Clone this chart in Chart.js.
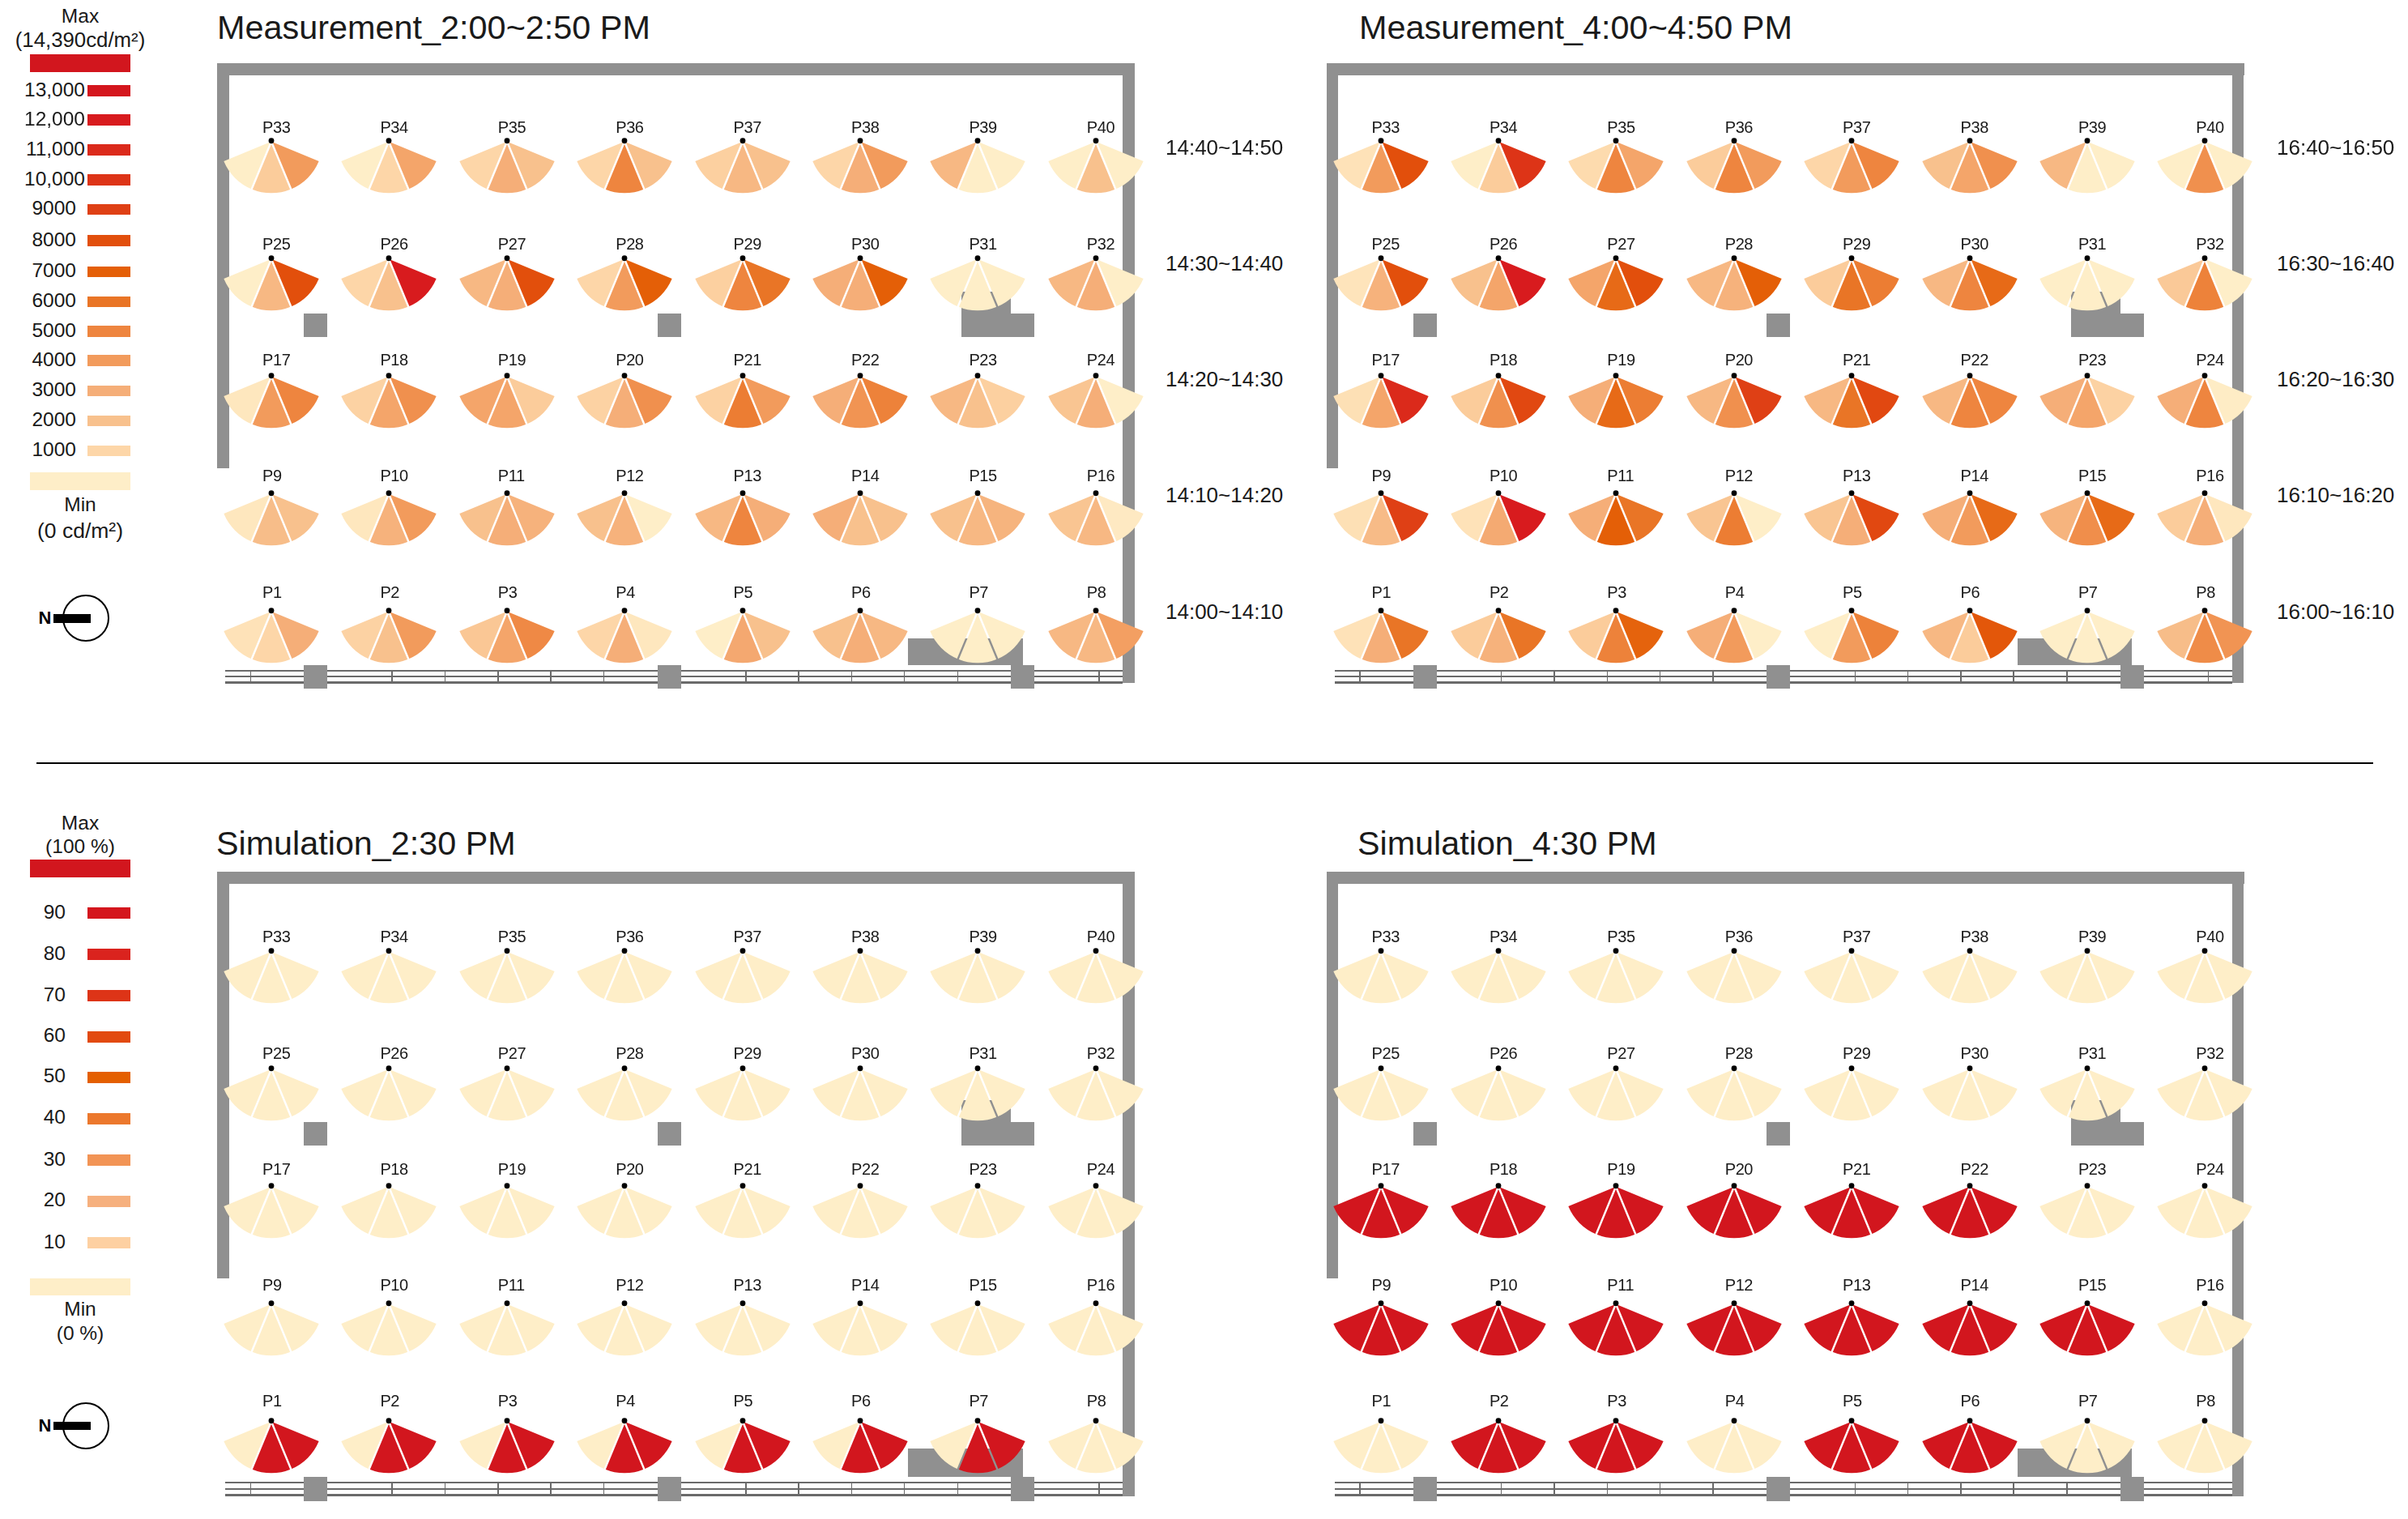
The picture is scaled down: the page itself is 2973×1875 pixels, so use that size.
<!DOCTYPE html>
<html>
<head>
<meta charset="utf-8">
<title>Measurement and simulation fans</title>
<script src="https://cdn.jsdelivr.net/npm/chart.js@4"></script>
<style>
    html, body { margin: 0; padding: 0; background: #fff; }
    #page { position: relative; width: 2973px; height: 1875px; overflow: hidden; font-family: "Liberation Sans", sans-serif; color: #1a1a1a; }
    #page div, #page canvas { position: absolute; }
    .t { white-space: nowrap; line-height: 1; transform: translateY(-50%); }
    .c { transform: translate(-50%, -50%); }
    .r { transform: translate(-100%, -50%); }
</style>
</head>
<body>
<div id="page"></div>
<script>
// values per point, P1 to P40, each one [left, middle, right] slice
const measurement2pm = [
    [500,1000,3000], [1200,2000,4000], [1700,3500,4800], [1000,3000,300], [0,3300,2000], [2000,3000,2500], [0,0,0], [2500,2500,3800],
    [300,2200,2000], [300,2800,4000], [2000,3000,2800], [2000,2800,0], [2500,5000,3000], [3000,2000,2000], [2000,2500,2700], [1800,2500,200],
    [300,4000,5000], [1200,3500,4500], [3500,3500,1500], [1200,3000,4500], [1200,5500,4000], [3000,4300,5200], [2500,2000,1300], [1800,3000,0],
    [0,2500,8000], [1000,2000,12000], [2500,3000,8000], [1000,4000,7000], [1300,5000,6000], [3000,3000,7000], [0,0,0], [2500,3000,0],
    [0,1500,4000], [0,1000,3500], [1000,3000,2000], [1000,5000,2000], [1300,2500,2000], [1000,3000,4000], [2500,0,0], [0,2000,0]
];
const measurement4pm = [
    [500,3000,6000], [1500,2800,6000], [1500,5200,6800], [3000,4000,0], [0,4000,5200], [2500,1500,7500], [0,0,0], [2200,4700,4300],
    [600,2300,9000], [500,3200,12000], [3000,7000,6000], [1800,5500,0], [1800,3000,8500], [3000,4000,6500], [2700,4600,6500], [1500,3000,300],
    [600,3500,11000], [1500,4500,8500], [3000,6500,5500], [2500,4500,9000], [2500,6000,8500], [2500,5000,5000], [3000,3500,1200], [3000,5000,100],
    [400,2800,8000], [2000,3500,12000], [3500,6500,8000], [2500,2800,7000], [1500,6000,5500], [2500,5000,6500], [0,0,0], [1600,5200,0],
    [500,4000,8000], [0,1500,10000], [800,5000,3500], [1500,5000,4000], [1000,4000,5000], [2000,3500,4500], [2500,0,0], [0,4500,0]
];
const simulation230 = [
    [0,100,100], [0,100,100], [0,100,100], [0,100,100], [0,100,100], [0,100,100], [0,100,100], [0,0,0],
    [0,0,0], [0,0,0], [0,0,0], [0,0,0], [0,0,0], [0,0,0], [0,0,0], [0,0,0],
    [0,0,0], [0,0,0], [0,0,0], [0,0,0], [0,0,0], [0,0,0], [0,0,0], [0,0,0],
    [0,0,0], [0,0,0], [0,0,0], [0,0,0], [0,0,0], [0,0,0], [0,0,0], [0,0,0],
    [0,0,0], [0,0,0], [0,0,0], [0,0,0], [0,0,0], [0,0,0], [0,0,0], [0,0,0]
];
const simulation430 = [
    [0,0,0], [100,100,100], [100,100,100], [0,0,0], [100,100,100], [100,100,100], [0,0,0], [0,0,0],
    [100,100,100], [100,100,100], [100,100,100], [100,100,100], [100,100,100], [100,100,100], [100,100,100], [0,0,0],
    [100,100,100], [100,100,100], [100,100,100], [100,100,100], [100,100,100], [100,100,100], [0,0,0], [0,0,0],
    [0,0,0], [0,0,0], [0,0,0], [0,0,0], [0,0,0], [0,0,0], [0,0,0], [0,0,0],
    [0,0,0], [0,0,0], [0,0,0], [0,0,0], [0,0,0], [0,0,0], [0,0,0], [0,0,0]
];

// colour legends
const luminanceStops = [0, 1000, 2000, 3000, 4000, 5000, 6000, 7000, 8000, 9000, 10000, 11000, 12000, 13000, 14390];
const luminanceColors = ['#feeec8', '#fdd6a8', '#f8c18d', '#f5ae78', '#f29b5c', '#ee853f', '#e97526', '#e45f07', '#e24f0c', '#df4015', '#dd3417', '#db2a1b', '#d81b1e', '#d4161d', '#d2161e'];
const luminanceLabels = ['13,000', '12,000', '11,000', '10,000', '9000', '8000', '7000', '6000', '5000', '4000', '3000', '2000', '1000'];
const percentStops = [0, 10, 20, 30, 40, 50, 60, 70, 80, 90, 100];
const percentColors = ['#feeec8', '#fdd0a2', '#f6b07e', '#f29455', '#ec782d', '#e45f00', '#e24a10', '#dd3417', '#da231e', '#d4161d', '#d2161e'];
const percentLabels = ['90', '80', '70', '60', '50', '40', '30', '20', '10'];

const timeSlots1 = ['14:40~14:50', '14:30~14:40', '14:20~14:30', '14:10~14:20', '14:00~14:10'];
const timeSlots2 = ['16:40~16:50', '16:30~16:40', '16:20~16:30', '16:10~16:20', '16:00~16:10'];

// layout, in page pixels
const WALL = '#909090';
const RAIL = '#6a6a6a';
const columnX = 335, columnStep = 145.4, rowStep = 145;
const panelShift = 1369.5;
const railTicks = [309.4, 484, 549.4, 614.8, 680.2, 745.6, 921, 986, 1051.5, 1116.7, 1182.3, 1357];
const labelYTop = [156.7, 300.7, 444, 587, 730.7];
const labelYBottom = [1156, 1299.5, 1443, 1586, 1729];
const page = document.getElementById('page');

function box(x, y, w, h, color) {
    const d = document.createElement('div');
    d.style.cssText = `left:${x}px;top:${y}px;width:${w}px;height:${h}px;background:${color}`;
    page.appendChild(d);
    return d;
}

function text(str, x, y, size, cls, extra) {
    const d = document.createElement('div');
    d.className = 't ' + (cls || '');
    d.textContent = str;
    d.style.cssText = `left:${x}px;top:${y}px;font-size:${size}px;` + (extra || '');
    page.appendChild(d);
    return d;
}

function colorFor(value, stops, colors) {
    let i = 0;
    while (i < stops.length - 2 && value > stops[i + 1]) i++;
    const f = Math.min(1, (value - stops[i]) / (stops[i + 1] - stops[i]));
    const a = parseInt(colors[i].slice(1), 16), b = parseInt(colors[i + 1].slice(1), 16);
    const mix = s => Math.round(((a >> s) & 255) * (1 - f) + ((b >> s) & 255) * f);
    return `rgb(${mix(16)},${mix(8)},${mix(0)})`;
}

// cuts the see-through gaps between slices and puts the black dot on the tip
const fanDetails = {
    id: 'fanDetails',
    afterDatasetsDraw(chart) {
        const arcs = chart.getDatasetMeta(0).data;
        const ctx = chart.ctx;
        const tip = arcs[0];
        ctx.save();
        ctx.globalCompositeOperation = 'destination-out';
        ctx.lineWidth = 2.4;
        [arcs[0].endAngle, arcs[1].endAngle].forEach(angle => {
            ctx.beginPath();
            ctx.moveTo(tip.x, tip.y);
            ctx.lineTo(tip.x + Math.cos(angle) * 70, tip.y + Math.sin(angle) * 70);
            ctx.stroke();
        });
        ctx.globalCompositeOperation = 'source-over';
        ctx.fillStyle = '#000';
        ctx.beginPath();
        ctx.arc(tip.x, tip.y - 1, 3.4, 0, Math.PI * 2);
        ctx.fill();
        ctx.restore();
    }
};

function drawFan(apexX, apexY, values, stops, colors) {
    const canvas = document.createElement('canvas');
    canvas.width = 140;
    canvas.height = 81;
    canvas.style.left = (apexX - 70) + 'px';
    canvas.style.top = (apexY - 9) + 'px';
    page.appendChild(canvas);
    // slices run clockwise from lower right, so the order is flipped
    const ordered = values.slice().reverse();
    new Chart(canvas.getContext('2d'), {
        type: 'pie',
        data: {
            labels: ['right', 'middle', 'left'],
            datasets: [{
                data: [1, 1, 1],
                backgroundColor: ordered.map(v => colorFor(v, stops, colors)),
                borderWidth: 0
            }]
        },
        options: {
            responsive: false,
            animation: false,
            events: [],
            rotation: 112.5,
            circumference: 135,
            radius: 63.5,
            plugins: { legend: { display: false }, tooltip: { enabled: false } }
        },
        plugins: [fanDetails]
    });
}

function drawRoom(dx, y) {
    // walls
    box(dx + 268, y.top, 1133, 14.7, WALL);
    box(dx + 268, y.top, 14.5, y.leftEnd - y.top, WALL);
    box(dx + 1386.3, y.top, 14.7, y.rightEnd - y.top, WALL);
    // window rail
    box(dx + 278, y.rail[0] - 1, 1108, 2, RAIL);
    box(dx + 278, y.rail[1] - 0.75, 1108, 1.5, RAIL);
    box(dx + 278, y.rail[2] - 1.25, 1108, 2.5, RAIL);
    railTicks.forEach(x => box(dx + x - 0.75, y.rail[0], 1.5, y.rail[2] - y.rail[0], RAIL));
    // columns and core
    [375, 811.6, 1248.3].forEach(x => box(dx + x, y.pillar, 29, y.pillarH, WALL));
    [375, 811.6].forEach(x => box(dx + x, y.mid, 29, 29, WALL));
    box(dx + 1187, y.mid, 90.3, 29, WALL);
    box(dx + 1187, y.mid - 27, 61, 27, WALL);
    box(dx + 1121, y.block, 141.7, y.pillar - y.block, WALL);
}

function drawPanel(dx, apexTop, labelY, values, stops, colors) {
    for (let row = 0; row < 5; row++) {
        for (let col = 0; col < 8; col++) {
            const n = (4 - row) * 8 + col;
            const x = dx + columnX + col * columnStep;
            drawFan(x, apexTop + row * rowStep, values[n], stops, colors);
            text('P' + (n + 1), x - 11, labelY[row], 20, '', 'letter-spacing:-0.4px');
        }
    }
}

function drawCompass(cy) {
    const ring = box(77.3, cy - 29, 58, 58, 'transparent');
    ring.style.boxSizing = 'border-box';
    ring.style.border = '2.6px solid #000';
    ring.style.borderRadius = '50%';
    box(66, cy - 5, 45.7, 10.4, '#000');
    text('N', 47.5, cy, 22, '', 'font-weight:bold;color:#000');
}

function drawLegendLuminance() {
    text('Max', 99, 20, 24.5, 'c');
    text('(14,390cd/m²)', 99, 50, 25.8, 'c');
    box(37, 67.3, 124, 22, luminanceColors[14]);
    const barY = [105.3, 141, 178, 215, 251.7, 290, 328.7, 365.7, 402.3, 438.3, 475.7, 512.7, 549.7];
    luminanceLabels.forEach((label, i) => {
        box(108.3, barY[i], 52.7, 13.8, luminanceColors[13 - i]);
        text(label, label.length > 4 ? 105 : 94, barY[i] + 5.5, 24.5, 'r');
    });
    box(37, 583.3, 124, 21.7, luminanceColors[0]);
    text('Min', 99, 623, 24.5, 'c');
    text('(0 cd/m²)', 99, 655, 26.5, 'c');
}

function drawLegendPercent() {
    text('Max', 99, 1016, 24.5, 'c');
    text('(100 %)', 99, 1045, 24.5, 'c');
    box(37, 1061, 124, 22, percentColors[10]);
    const barY = [1120, 1171, 1222, 1272.8, 1322.6, 1373.5, 1425, 1475.8, 1527];
    percentLabels.forEach((label, i) => {
        box(108.3, barY[i], 52.7, 14, percentColors[9 - i]);
        text(label, 81, barY[i] + 5.5, 24.5, 'r');
    });
    box(37, 1578, 124, 20.5, percentColors[0]);
    text('Min', 99, 1615.6, 24.5, 'c');
    text('(0 %)', 99, 1645.6, 24.5, 'c');
}

const roomTop = { top: 78, leftEnd: 577.7, rightEnd: 843, rail: [827.7, 835, 842.7], pillar: 821, pillarH: 29, mid: 386.7, block: 788 };
const roomBottom = { top: 1076, leftEnd: 1577.6, rightEnd: 1846.7, rail: [1830, 1838, 1845.7], pillar: 1822.7, pillarH: 30.6, mid: 1384.8, block: 1787.7 };

drawRoom(0, roomTop);
drawRoom(panelShift, roomTop);
drawRoom(0, roomBottom);
drawRoom(panelShift, roomBottom);

drawPanel(0, 175, labelYTop, measurement2pm, luminanceStops, luminanceColors);
drawPanel(panelShift, 175, labelYTop, measurement4pm, luminanceStops, luminanceColors);
drawPanel(0, 1175, labelYBottom, simulation230, percentStops, percentColors);
drawPanel(panelShift, 1175, labelYBottom, simulation430, percentStops, percentColors);

text('Measurement_2:00~2:50 PM', 268, 35, 41.4);
text('Measurement_4:00~4:50 PM', 1678, 35, 41.4);
text('Simulation_2:30 PM', 267, 1042, 41.3);
text('Simulation_4:30 PM', 1676, 1042, 41.3);

const slotY = [182, 325, 468, 611, 755];
timeSlots1.forEach((s, i) => text(s, 1439, slotY[i], 26));
timeSlots2.forEach((s, i) => text(s, 2811, slotY[i], 26));

drawLegendLuminance();
drawLegendPercent();
drawCompass(763.3);
drawCompass(1760);

// divider between the two halves
box(45, 941, 2885, 2, '#000');
</script>
</body>
</html>
